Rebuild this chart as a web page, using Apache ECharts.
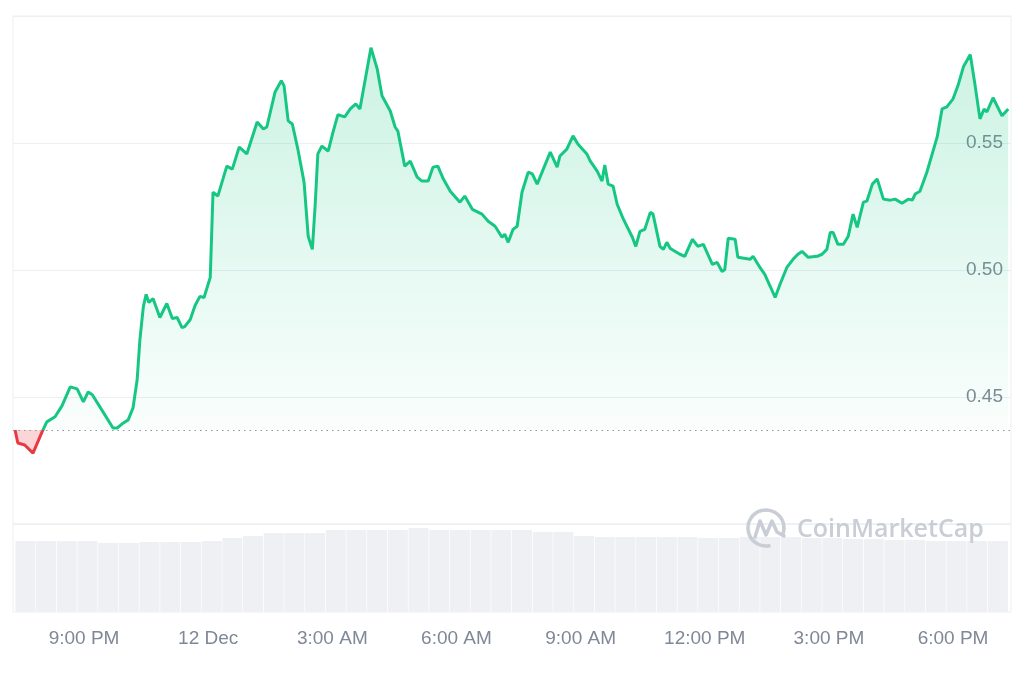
<!DOCTYPE html>
<html>
<head>
<meta charset="utf-8">
<title>Price chart</title>
<script src="https://cdn.jsdelivr.net/npm/echarts@6/dist/echarts.min.js"></script>
<style>
  html, body { margin: 0; padding: 0; background: #fff; }
  #chart { width: 1024px; height: 683px; }
</style>
</head>
<body>
<div id="chart"></div>
<script>
// price points, 11-12 Dec (day hh:mm)
var times = [
  '11 19:20', '11 19:24', '11 19:34', '11 19:46', '11 19:59', '11 20:06', '11 20:18', '11 20:28', '11 20:40', '11 20:50',
  '11 20:59', '11 21:06', '11 21:12', '11 21:23', '11 21:42', '11 21:48', '11 21:57', '11 22:04', '11 22:11', '11 22:17',
  '11 22:21', '11 22:26', '11 22:30', '11 22:34', '11 22:40', '11 22:50', '11 23:00', '11 23:08', '11 23:15', '11 23:22',
  '11 23:26', '11 23:34', '11 23:41', '11 23:48', '11 23:54', '12 00:03', '12 00:07', '12 00:14', '12 00:27', '12 00:35',
  '12 00:45', '12 00:56', '12 01:11', '12 01:20', '12 01:25', '12 01:37', '12 01:46', '12 01:50', '12 01:56', '12 02:02',
  '12 02:10', '12 02:19', '12 02:25', '12 02:31', '12 02:35', '12 02:39', '12 02:45', '12 02:54', '12 03:01', '12 03:08',
  '12 03:18', '12 03:26', '12 03:34', '12 03:40', '12 03:56', '12 04:05', '12 04:12', '12 04:24', '12 04:31', '12 04:35',
  '12 04:45', '12 04:53', '12 05:03', '12 05:10', '12 05:19', '12 05:26', '12 05:33', '12 05:41', '12 05:51', '12 06:05',
  '12 06:12', '12 06:23', '12 06:37', '12 06:46', '12 06:56', '12 07:06', '12 07:10', '12 07:15', '12 07:22', '12 07:28',
  '12 07:35', '12 07:44', '12 07:50', '12 07:57', '12 08:16', '12 08:26', '12 08:30', '12 08:40', '12 08:49', '12 08:56',
  '12 09:09', '12 09:14', '12 09:24', '12 09:31', '12 09:35', '12 09:40', '12 09:47', '12 09:53', '12 10:02', '12 10:15',
  '12 10:20', '12 10:26', '12 10:33', '12 10:41', '12 10:45', '12 10:55', '12 11:00', '12 11:05', '12 11:10', '12 11:24',
  '12 11:31', '12 11:42', '12 11:50', '12 11:58', '12 12:11', '12 12:18', '12 12:25', '12 12:29', '12 12:34', '12 12:44',
  '12 12:48', '12 13:06', '12 13:10', '12 13:20', '12 13:27', '12 13:35', '12 13:42', '12 13:49', '12 13:59', '12 14:08',
  '12 14:15', '12 14:21', '12 14:30', '12 14:43', '12 14:50', '12 14:57', '12 15:02', '12 15:06', '12 15:13', '12 15:21',
  '12 15:28', '12 15:35', '12 15:41', '12 15:50', '12 15:55', '12 16:03', '12 16:10', '12 16:19', '12 16:29', '12 16:36',
  '12 16:46', '12 16:55', '12 17:01', '12 17:05', '12 17:12', '12 17:22', '12 17:37', '12 17:44', '12 17:51', '12 18:00',
  '12 18:07', '12 18:15', '12 18:25', '12 18:32', '12 18:39', '12 18:45', '12 18:49', '12 18:58', '12 19:11', '12 19:20'
];
var prices = [
  0.4370, 0.4319, 0.4311, 0.4279, 0.4362, 0.4402, 0.4422, 0.4465, 0.4540, 0.4532,
  0.4481, 0.4520, 0.4509, 0.4461, 0.4378, 0.4378, 0.4398, 0.4410, 0.4457, 0.4568,
  0.4726, 0.4856, 0.4904, 0.4872, 0.4888, 0.4813, 0.4868, 0.4809, 0.4813, 0.4773,
  0.4777, 0.4805, 0.4860, 0.4896, 0.4892, 0.4971, 0.5306, 0.5291, 0.5409, 0.5397,
  0.5484, 0.5457, 0.5583, 0.5555, 0.5563, 0.5701, 0.5745, 0.5725, 0.5587, 0.5575,
  0.5476, 0.5346, 0.5133, 0.5081, 0.5251, 0.5457, 0.5488, 0.5468, 0.5543, 0.5611,
  0.5603, 0.5634, 0.5654, 0.5634, 0.5875, 0.5792, 0.5686, 0.5626, 0.5563, 0.5547,
  0.5409, 0.5429, 0.5366, 0.5350, 0.5350, 0.5405, 0.5409, 0.5358, 0.5310, 0.5267,
  0.5291, 0.5239, 0.5220, 0.5192, 0.5172, 0.5129, 0.5141, 0.5109, 0.5160, 0.5172,
  0.5306, 0.5385, 0.5378, 0.5338, 0.5464, 0.5405, 0.5449, 0.5476, 0.5528, 0.5496,
  0.5457, 0.5429, 0.5389, 0.5350, 0.5413, 0.5338, 0.5330, 0.5259, 0.5200, 0.5129,
  0.5093, 0.5152, 0.5160, 0.5227, 0.5220, 0.5093, 0.5081, 0.5109, 0.5085, 0.5062,
  0.5054, 0.5121, 0.5093, 0.5101, 0.5022, 0.5030, 0.4994, 0.5002, 0.5125, 0.5121,
  0.5050, 0.5042, 0.5054, 0.5010, 0.4983, 0.4935, 0.4892, 0.4943, 0.5010, 0.5042,
  0.5062, 0.5073, 0.5050, 0.5054, 0.5062, 0.5081, 0.5148, 0.5148, 0.5101, 0.5101,
  0.5133, 0.5220, 0.5168, 0.5267, 0.5271, 0.5338, 0.5358, 0.5279, 0.5275, 0.5279,
  0.5263, 0.5279, 0.5275, 0.5299, 0.5310, 0.5385, 0.5524, 0.5634, 0.5642, 0.5674,
  0.5725, 0.5800, 0.5848, 0.5725, 0.5595, 0.5634, 0.5622, 0.5678, 0.5607, 0.5634
];

// volume, half-hour bars starting 11 Dec 19:35 (millions)
var volStart = '11 19:35';
var volumes = [
  7.1, 7.1, 7.1, 7.1, 6.9, 6.9, 7.0, 7.0, 7.0, 7.1, 7.4, 7.6,
  7.9, 7.9, 7.9, 8.2, 8.2, 8.2, 8.2, 8.4, 8.2, 8.2, 8.2, 8.2,
  8.2, 8.0, 8.0, 7.6, 7.5, 7.5, 7.5, 7.5, 7.5, 7.4, 7.4, 7.5,
  7.5, 7.5, 7.4, 7.4, 7.3, 7.3, 7.2, 7.2, 7.1, 7.1, 7.1, 7.1
];

var yTicks = [0.45, 0.50, 0.55];
var xTicks = ['11 21:00', '12 00:00', '12 03:00', '12 06:00', '12 09:00', '12 12:00', '12 15:00', '12 18:00'];

function toTs(s) {
  var p = s.split(' ');
  var hm = p[1].split(':');
  return new Date(2024, 11, +p[0], +hm[0], +hm[1]).getTime();
}

var priceData = times.map(function(t, i) { return [toTs(t), prices[i]]; });
var volData = volumes.map(function(v, i) { return [toTs(volStart) + i * 30 * 60000, v]; });
var base = prices[0];

var xMin = toTs('11 19:17');
var xMax = toTs('12 19:24');

var green = '#16c784';
var red = '#ea3943';

// grid geometry (used for the global fill gradient)
var gTop = 16, gBottom = 524;
var baseY = gBottom - (base - 0.40) / 0.20 * (gBottom - gTop);
var f = (baseY - gTop) / (gBottom - gTop);

var myChart = echarts.init(document.getElementById('chart'), null, { renderer: 'canvas' });

function timeLabel(v) {
  var d = new Date(v);
  var h = d.getHours();
  if (h === 0) return d.getDate() + ' Dec';
  var ap = h >= 12 ? 'PM' : 'AM';
  var h12 = h % 12 === 0 ? 12 : h % 12;
  return h12 + ':00 ' + ap;
}

var option = {
  animation: false,
  backgroundColor: '#fff',
  grid: [{
    left: 13, width: 998, top: gTop, height: gBottom - gTop,
    show: true, borderColor: '#eceff3', borderWidth: 1
  }, {
    left: 13, width: 998, top: gBottom, height: 88,
    show: true, borderColor: '#eceff3', borderWidth: 1
  }],
  xAxis: [{
    type: 'value', gridIndex: 0, min: xMin, max: xMax,
    axisLine: { show: false }, axisTick: { show: false },
    axisLabel: { show: false }, splitLine: { show: false }
  }, {
    type: 'value', gridIndex: 1, min: xMin, max: xMax,
    axisLine: { show: false }, axisTick: { show: false },
    splitLine: { show: false },
    axisLabel: {
      customValues: xTicks.map(toTs),
      margin: 17,
      color: '#7f8896',
      fontSize: 19,
      fontFamily: 'Liberation Sans, Arial, sans-serif',
      formatter: timeLabel
    }
  }],
  yAxis: [{
    type: 'value', gridIndex: 0, position: 'right',
    min: 0.40, max: 0.60, interval: 0.05,
    axisLine: { show: false }, axisTick: { show: false },
    splitLine: { lineStyle: { color: '#eceff3', width: 1 } },
    axisLabel: {
      inside: true, margin: 8,
      showMinLabel: false, showMaxLabel: false,
      color: '#7f8896', fontSize: 19,
      fontFamily: 'Liberation Sans, Arial, sans-serif',
      formatter: function(v) { return yTicks.indexOf(+v.toFixed(2)) >= 0 ? v.toFixed(2) : ''; }
    }
  }, {
    type: 'value', gridIndex: 1, min: 0, max: 8.8,
    axisLine: { show: false }, axisTick: { show: false },
    axisLabel: { show: false }, splitLine: { show: false }
  }],
  visualMap: {
    show: false,
    type: 'piecewise',
    seriesIndex: 0,
    dimension: 1,
    pieces: [
      { gt: 0, lt: base, color: red },
      { gte: base, lte: 10, color: green }
    ],
    outOfRange: { color: green }
  },
  series: [{
    name: 'price',
    type: 'line',
    xAxisIndex: 0, yAxisIndex: 0,
    data: priceData,
    showSymbol: false,
    symbol: 'none',
    lineStyle: { width: 3 },
    areaStyle: {
      origin: base,
      color: new echarts.graphic.LinearGradient(0, gTop, 0, gBottom, [
        { offset: 0, color: 'rgba(22,199,132,0.34)' },
        { offset: f, color: 'rgba(22,199,132,0.03)' },
        { offset: f, color: 'rgba(234,57,67,0.3)' },
        { offset: 1, color: 'rgba(234,57,67,0.3)' }
      ], true)
    },
    markLine: {
      silent: true,
      symbol: 'none',
      precision: 4,
      label: { show: false },
      lineStyle: { color: '#8d94a0', type: [1.5, 4], width: 1.2 },
      data: [{ yAxis: base }]
    },
    z: 3
  }, {
    name: 'volume',
    type: 'bar',
    xAxisIndex: 1, yAxisIndex: 1,
    data: volData,
    barWidth: 20,
    itemStyle: { color: '#eef0f3' },
    z: 1
  }],
  graphic: [{
    type: 'arc',
    shape: { cx: 766, cy: 528, r: 18, startAngle: Math.PI * 0.42, endAngle: Math.PI * 2.12, clockwise: true },
    style: { stroke: '#c8cdd6', lineWidth: 3.5, fill: 'none' },
    z: 10
  }, {
    type: 'polyline',
    shape: { points: [[755, 537], [760, 521], [766, 535], [772, 521], [777, 532], [784, 536]] },
    style: { stroke: '#c8cdd6', lineWidth: 3.5, fill: 'none', lineJoin: 'round', lineCap: 'round' },
    z: 10
  }, {
    type: 'text',
    left: 797, top: 517,
    style: {
      text: 'CoinMarketCap',
      fill: '#c8cdd6',
      fontSize: 25,
      fontWeight: 600,
      fontFamily: 'Open Sans, Liberation Sans, sans-serif'
    },
    z: 10
  }]
};

myChart.setOption(option);
</script>
</body>
</html>
